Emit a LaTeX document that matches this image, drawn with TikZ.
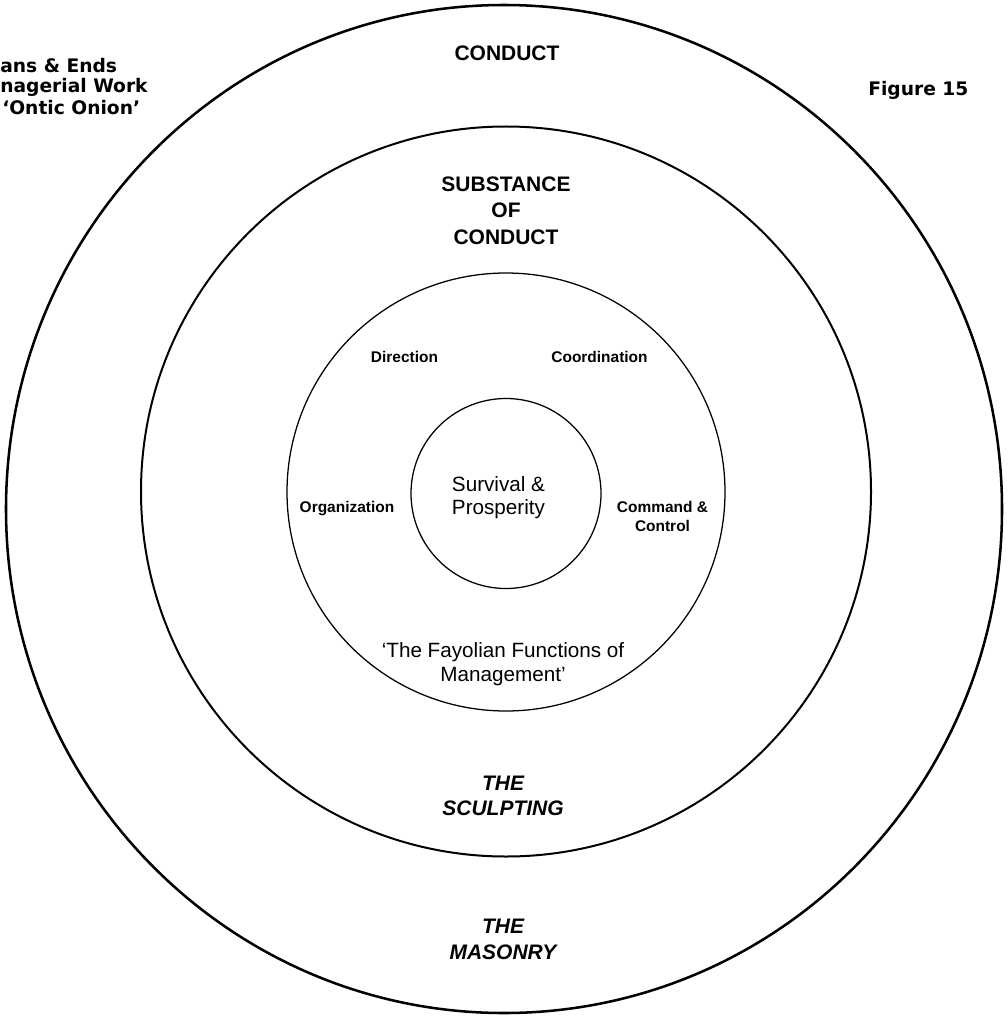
\documentclass[tikz,border=0pt]{standalone}
\usepackage{fontspec}
\setmainfont{Liberation Sans}
\newfontfamily\headfont{DejaVu Sans}
\begin{document}
\begin{tikzpicture}[x=0.75pt,y=-0.75pt,
  ring/.style={draw=black,line width=#1},
  lvl/.style={font=\fontsize{15.75}{18}\selectfont\bfseries,inner sep=0pt,anchor=base},
  lvlit/.style={font=\fontsize{15.75}{18}\selectfont\bfseries\itshape,inner sep=0pt,anchor=base},
  fn/.style={font=\fontsize{11.6}{14}\selectfont\bfseries,inner sep=0pt,anchor=base},
  core/.style={font=\fontsize{15.5}{18}\selectfont,inner sep=0pt,anchor=base},
  head/.style={font=\headfont\fontsize{14}{16}\selectfont\bfseries,inner sep=0pt,anchor=base west}]
  \useasboundingbox (0,0) rectangle (1007,1016);
  \fill[white] (0,0) rectangle (1007,1016);

  % the four layers of the onion
  \draw[ring=1.9pt] (504,509) ellipse [x radius=498, y radius=504];
  \draw[ring=1.5pt] (506,491.5) circle [radius=365];
  \draw[ring=0.95pt] (506,492) circle [radius=219];
  \draw[ring=0.95pt] (506,493.5) circle [radius=95];

  % heading and figure number
  \node[head] (h1) at (0,73) {ans \& Ends};
  \node[head] (h2) at (0,93) {nagerial Work};
  \node[head] (h3) at (2,115) {‘Ontic Onion’};
  \node[head] (fig) at (868,96) {Figure 15};

  % outer layer
  \node[lvl] (conduct) at (507,61) {CONDUCT};
  \node[lvlit] (masonry1) at (503,933) {THE};
  \node[lvlit] (masonry2) at (503,959) {MASONRY};

  % second layer
  \node[lvl] (subst1) at (506,192) {SUBSTANCE};
  \node[lvl] (subst2) at (506,218) {OF};
  \node[lvl] (subst3) at (506,244) {CONDUCT};
  \node[lvlit] (sculpt1) at (503,790) {THE};
  \node[lvlit] (sculpt2) at (503,815) {SCULPTING};

  % Fayolian functions
  \node[fn] (direction) at (404.5,362) {Direction};
  \node[fn] (coord) at (599.5,362) {Coordination};
  \node[fn] (org) at (347,512) {Organization};
  \node[fn] (cmd1) at (662.5,512) {Command \&};
  \node[fn] (cmd2) at (662.5,531) {Control};
  \node[core] (fay1) at (503,657) {‘The Fayolian Functions of};
  \node[core] (fay2) at (503,681) {Management’};

  % core
  \node[core] (core1) at (498.5,491) {Survival \&};
  \node[core] (core2) at (498.5,514) {Prosperity};
\end{tikzpicture}
\end{document}
